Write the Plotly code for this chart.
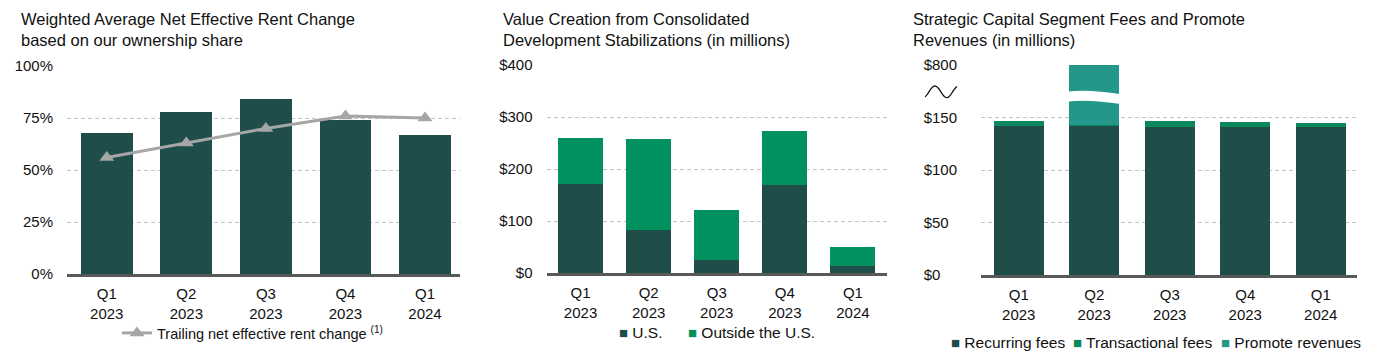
import numpy as np
import plotly.graph_objects as go

W, H = 1378, 358

# ---------------- data ----------------
quarters = ["Q1<br>2023", "Q2<br>2023", "Q3<br>2023", "Q4<br>2023", "Q1<br>2024"]

rent_change = [68, 78, 84, 74, 67]                 # % bars
trailing_rent_change = [56, 63, 70, 76, 75]        # % line

us_value = [172, 82, 25, 170, 14]                  # $M
outside_us_value = [88, 176, 97, 104, 36]          # $M

recurring_fees = [142, 142, 141, 141, 141]         # $M
transactional_fees = [5, 1, 6, 5, 4]               # $M
promote_revenues = [0, 657, 0, 0, 0]               # $M

pct_ticks = [0, 25, 50, 75, 100]
usd_ticks = [0, 100, 200, 300, 400]
fee_tickvals = [0, 50, 100, 150, 200]              # axis positions (broken axis)
fee_ticktext = ["$0", "$50", "$100", "$150", "$800"]

# ---------------- style ----------------
DARK = "#1F4D4A"
GREEN = "#00915E"
TRANS = "#0B875E"
TEAL = "#22978A"
GRAY_LINE = "#A6A6A6"
GRID = "#C4C4C4"
AXIS = "#595959"
FONT = "Liberation Sans, Arial, sans-serif"

OFF = 8  # page body margin of the hosting html page


def px(x):
    return (x - OFF) / W


def py(y):
    return 1 - (y - OFF) / H


def xd(a, b):
    return [px(a), px(b)]


def yd(top, bottom):
    return [py(bottom), py(top)]


fig = go.Figure()

# chart 1
fig.add_trace(go.Bar(x=quarters, y=rent_change, marker=dict(color=DARK, line=dict(width=0)),
                     width=0.65, showlegend=False, xaxis="x", yaxis="y"))
fig.add_trace(go.Scatter(x=quarters, y=trailing_rent_change, mode="lines+markers",
                         line=dict(color=GRAY_LINE, width=3),
                         marker=dict(symbol="triangle-up", size=13, color=GRAY_LINE),
                         name="Trailing net effective rent change <sup>(1)</sup>",
                         legend="legend", xaxis="x", yaxis="y"))

# chart 2
fig.add_trace(go.Bar(x=quarters, y=us_value, name="U.S.", marker=dict(color=DARK, line=dict(width=0)),
                     width=0.66, showlegend=False, xaxis="x2", yaxis="y2"))
fig.add_trace(go.Bar(x=quarters, y=outside_us_value, name="Outside the U.S.",
                     marker=dict(color=GREEN, line=dict(width=0)),
                     width=0.66, showlegend=False, xaxis="x2", yaxis="y2"))

# chart 3 (broken axis: values above the top are clipped to the axis top)
top3 = fee_tickvals[-1]
promote_display = [min(p, top3 - r - t) for p, r, t in zip(promote_revenues, recurring_fees, transactional_fees)]
fig.add_trace(go.Bar(x=quarters, y=recurring_fees, name="Recurring fees",
                     marker=dict(color=DARK, line=dict(width=0)),
                     width=0.66, showlegend=False, xaxis="x3", yaxis="y3"))
fig.add_trace(go.Bar(x=quarters, y=transactional_fees, name="Transactional fees",
                     marker=dict(color=TRANS, line=dict(width=0)),
                     width=0.66, showlegend=False, xaxis="x3", yaxis="y3"))
fig.add_trace(go.Bar(x=quarters, y=promote_display, name="Promote revenues",
                     customdata=promote_revenues, hovertemplate="%{customdata}<extra>Promote revenues</extra>",
                     marker=dict(color=TEAL, line=dict(width=0)),
                     width=0.66, showlegend=False, xaxis="x3", yaxis="y3"))

xcommon = dict(type="category", showgrid=False, showline=True, linecolor=AXIS, linewidth=3,
               ticks="outside", ticklen=4, tickcolor="rgba(0,0,0,0)", automargin=False,
               tickfont=dict(size=15, color="#111111", family=FONT), fixedrange=True)
ycommon = dict(showgrid=True, gridcolor=GRID, gridwidth=1, griddash="4px,3px", zeroline=False,
               showline=False, ticks="outside", ticklen=10, tickcolor="rgba(0,0,0,0)", automargin=False,
               tickfont=dict(size=15, color="#111111", family=FONT), fixedrange=True)

nb = "\u00a0"
fee_ticktext_left = []
maxlen = max(len(t) for t in fee_ticktext)
for t in fee_ticktext:
    fee_ticktext_left.append(t + nb * (2 * (maxlen - len(t))))

r1 = [-0.5, 4.44]
r3 = [-0.5, 4.48]
fig.update_layout(
    width=W, height=H, margin=dict(l=0, r=0, t=0, b=0, pad=0, autoexpand=False),
    paper_bgcolor="white", plot_bgcolor="white",
    font=dict(family=FONT, color="#111111"),
    barmode="stack", bargap=0.34,
    xaxis=dict(xcommon, domain=xd(67, 460), range=r1, anchor="y"),
    yaxis=dict(ycommon, domain=yd(66, 274), range=[0, 100], tickvals=pct_ticks,
               ticktext=[f"{v}%" for v in pct_ticks], anchor="x"),
    xaxis2=dict(xcommon, domain=xd(546.5, 887), range=[-0.5, 4.5], anchor="y2"),
    yaxis2=dict(ycommon, domain=yd(65, 273), range=[0, 400], tickvals=usd_ticks,
                ticktext=[f"${v}" for v in usd_ticks], anchor="x2"),
    xaxis3=dict(xcommon, domain=xd(981, 1357), range=r3, anchor="y3"),
    yaxis3=dict(ycommon, domain=yd(65, 275), range=[0, top3], tickvals=fee_tickvals,
                ticktext=fee_ticktext_left, anchor="x3", ticklen=20),
    legend=dict(orientation="h", x=px(117), xanchor="left", y=py(333), yanchor="middle",
                font=dict(size=14.5, family=FONT, color="#111111"), bgcolor="rgba(0,0,0,0)",
                itemwidth=30),
    showlegend=True,
)

titles = [
    (19, "Weighted Average Net Effective Rent Change<br>based on our ownership share"),
    (501, "Value Creation from Consolidated<br>Development Stabilizations (in millions)"),
    (911, "Strategic Capital Segment Fees and Promote<br>Revenues (in millions)"),
]
for xp, txt in titles:
    fig.add_annotation(x=px(xp), y=py(7.5), xref="paper", yref="paper", xanchor="left", yanchor="top",
                       align="left", text=txt, showarrow=False,
                       font=dict(size=16.5, family=FONT, color="#111111"))


def legend_item(xp, yp, color, label):
    fig.add_annotation(x=px(xp), y=py(yp), xref="paper", yref="paper", xanchor="left",
                       yanchor="middle", showarrow=False, borderpad=0,
                       text=f'<span style="color:{color};font-size:15px">■</span> {label}',
                       font=dict(size=15.5, family=FONT, color="#111111"))


legend_item(618, 332, DARK, "U.S.")
legend_item(687, 332, GREEN, "Outside the U.S.")
legend_item(950, 342, DARK, "Recurring fees")
legend_item(1072, 342, TRANS, "Transactional fees")
legend_item(1220, 342, TEAL, "Promote revenues")

# axis-break band across the clipped Q2 bar
span = r3[1] - r3[0]
ci = 1
half = 0.66 / 2
x0 = (ci - half - r3[0]) / span - 0.004
x1 = (ci + half - r3[0]) / span + 0.004
xm = (x0 + x1) / 2
band = (f"M {x0},174.7 C {xm - 0.03},176.5 {xm + 0.02},175 {x1},172.2 "
        f"L {x1},162.8 C {xm + 0.02},165.6 {xm - 0.03},167 {x0},165.2 Z")
fig.add_shape(type="path", path=band, xref="x3 domain", yref="y3",
              fillcolor="white", line=dict(width=0), layer="above")

# break symbol next to the axis
t = np.linspace(0, 1, 40)
wx = 925 + 32 * t
wy = 91.8 - 5.8 * np.sin(2 * np.pi * (t - 0.125) / 0.74)
wpath = "M " + " L ".join(f"{px(a):.5f},{py(b):.5f}" for a, b in zip(wx, wy))
fig.add_shape(type="path", path=wpath, xref="paper", yref="paper",
              line=dict(color="#111111", width=1.3), layer="above")

fig.write_html("out.html")
